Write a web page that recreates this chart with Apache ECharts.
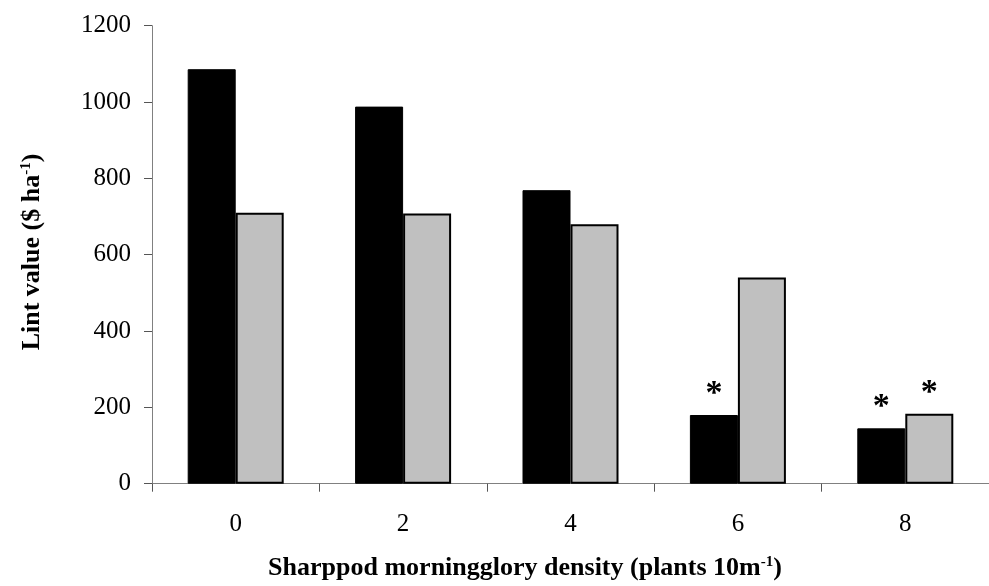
<!DOCTYPE html>
<html>
<head>
<meta charset="utf-8">
<script src="https://cdn.jsdelivr.net/npm/echarts@6/dist/echarts.min.js"></script>
<style>html,body{margin:0;padding:0;background:#fff}#c{width:989px;height:586px}</style>
</head>
<body>
<div id="c"></div>
<script>
const categories = ['0', '2', '4', '6', '8'];
const weedFreeValues = [1086, 988, 769, 180, 145];
const weedyValues = [710, 708, 680, 540, 183];
const weedFreeSignificant = [false, false, false, true, true];
const weedySignificant = [false, false, false, false, true];
const yTicks = [0, 200, 400, 600, 800, 1000, 1200];

const FONT = '"Liberation Serif", "Times New Roman", serif';
const chart = echarts.init(document.getElementById('c'), null, {renderer: 'canvas'});

function withLabels(values, flags) {
  return values.map((v, i) => ({
    value: v,
    label: {show: flags[i]}
  }));
}

const starLabel = {
  position: 'top',
  distance: 4,
  formatter: '*',
  fontFamily: FONT,
  fontWeight: 'bold',
  fontSize: 34,
  color: '#000'
};

chart.setOption({
  animation: false,
  backgroundColor: '#fff',
  grid: {left: 152, top: 25.7, bottom: 102.3, width: 845, containLabel: false},
  xAxis: {
    type: 'category',
    data: categories,
    boundaryGap: true,
    axisLine: {lineStyle: {color: '#808080', width: 1}},
    axisTick: {show: true, length: 8, lineStyle: {color: '#555', width: 1}},
    axisLabel: {fontFamily: FONT, fontSize: 25, color: '#000', margin: 28}
  },
  yAxis: {
    type: 'value',
    min: yTicks[0],
    max: yTicks[yTicks.length - 1],
    interval: 200,
    splitLine: {show: false},
    axisLine: {show: true, lineStyle: {color: '#808080', width: 1}},
    axisTick: {show: true, length: 8, lineStyle: {color: '#555', width: 1}},
    axisLabel: {fontFamily: FONT, fontSize: 25, color: '#000', margin: 21, formatter: v => String(v)}
  },
  series: [
    {
      type: 'bar',
      data: withLabels(weedFreeValues, weedFreeSignificant),
      barWidth: 48,
      barGap: '0%',
      itemStyle: {color: '#000', borderColor: '#000', borderWidth: 1},
      label: starLabel
    },
    {
      type: 'bar',
      data: withLabels(weedyValues, weedySignificant),
      barWidth: 48,
      barGap: '0%',
      itemStyle: {color: '#c0c0c0', borderColor: '#000', borderWidth: 2},
      label: starLabel
    }
  ],
  graphic: [
    {
      type: 'text',
      x: 525, y: 568,
      style: {
        text: '{b|Sharppod morningglory density (plants 10m}{s|-1}{b|)}',
        rich: {
          b: {fontFamily: FONT, fontWeight: 'bold', fontSize: 26, fill: '#000'},
          s: {fontFamily: FONT, fontWeight: 'bold', fontSize: 15, fill: '#000', padding: [0, 0, 12, 0]}
        },
        align: 'center',
        verticalAlign: 'middle'
      }
    },
    {
      type: 'text',
      x: 32, y: 252,
      rotation: Math.PI / 2,
      style: {
        text: '{b|Lint value ($ ha}{s|-1}{b|)}',
        rich: {
          b: {fontFamily: FONT, fontWeight: 'bold', fontSize: 26, fill: '#000'},
          s: {fontFamily: FONT, fontWeight: 'bold', fontSize: 15, fill: '#000', padding: [0, 0, 12, 0]}
        },
        align: 'center',
        verticalAlign: 'middle'
      }
    }
  ]
});
</script>
</body>
</html>
